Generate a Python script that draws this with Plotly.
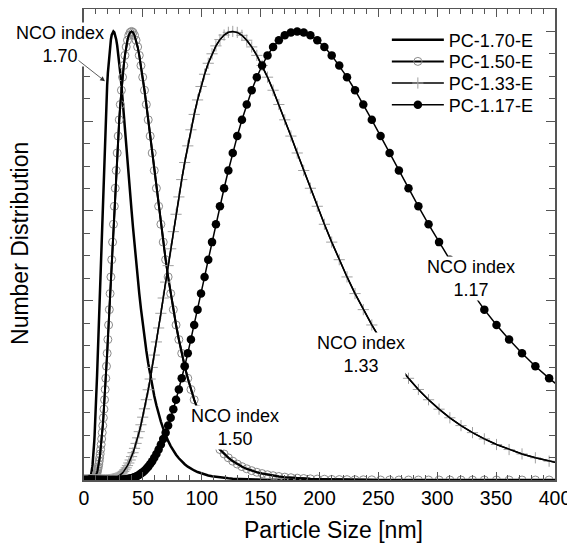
import plotly.graph_objects as go

# Particle size grid [nm]
sizes = [0.0, 0.5, 1.0, 1.5, 2.0, 2.5, 3.0, 3.5,
         4.01, 4.13, 4.26, 4.39, 4.52, 4.66, 4.80, 4.95, 5.10, 5.25,
         5.41, 5.58, 5.75, 5.92, 6.10, 6.29, 6.48, 6.68, 6.88, 7.09,
         7.31, 7.53, 7.76, 8.00, 8.24, 8.49, 8.75, 9.01, 9.29, 9.57,
         9.86, 10.16, 10.47, 10.79, 11.12, 11.46, 11.81, 12.17, 12.54, 12.92,
         13.31, 13.72, 14.14, 14.57, 15.01, 15.47, 15.94, 16.43, 16.93, 17.44,
         17.97, 18.52, 19.08, 19.67, 20.26, 20.88, 21.52, 22.17, 22.85, 23.54,
         24.26, 25.00, 25.76, 26.55, 27.35, 28.19, 29.05, 29.93, 30.84, 31.78,
         32.75, 33.75, 34.77, 35.83, 36.92, 38.05, 39.21, 40.40, 41.63, 42.90,
         44.21, 45.55, 46.94, 48.37, 49.84, 51.36, 52.93, 54.54, 56.20, 57.91,
         59.67, 61.49, 63.36, 65.29, 67.28, 69.33, 71.44, 73.62, 75.86, 78.17,
         80.55, 83.00, 85.53, 88.14, 90.82, 93.59, 96.44, 99.37, 102.40, 105.52,
         108.73, 112.04, 115.45, 118.97, 122.59, 126.33, 130.17, 134.14, 138.22, 142.43,
         146.77, 151.24, 155.85, 160.59, 165.48, 170.52, 175.72, 181.07, 186.58, 192.27,
         198.12, 204.15, 210.37, 216.78, 223.38, 230.18, 237.19, 244.42, 251.86, 259.53,
         267.43, 275.58, 283.97, 292.62, 301.53, 310.71, 320.18, 329.93, 339.98, 350.33,
         361.00, 371.99, 383.32, 395.00, 407.03]

pc170 = [0, 0, 0, 0, 0, 0, 0, 0,
         0.0006, 0.0008, 0.0010, 0.0012, 0.0016, 0.0019, 0.0024, 0.0030, 0.0037, 0.0046,
         0.0056, 0.0069, 0.0084, 0.0102, 0.0123, 0.0148, 0.0177, 0.0212, 0.0252, 0.0298,
         0.0352, 0.0413, 0.0484, 0.0564, 0.0655, 0.0757, 0.0872, 0.1001, 0.1144, 0.1302,
         0.1475, 0.1666, 0.1874, 0.2099, 0.2342, 0.2603, 0.2881, 0.3176, 0.3488, 0.3815,
         0.4156, 0.4509, 0.4874, 0.5246, 0.5624, 0.6006, 0.6389, 0.6769, 0.7143, 0.7507,
         0.7859, 0.8195, 0.8510, 0.8803, 0.9070, 0.9308, 0.9514, 0.9686, 0.9822, 0.9921,
         0.9980, 1.0000, 0.9980, 0.9921, 0.9822, 0.9686, 0.9514, 0.9308, 0.9070, 0.8803,
         0.8510, 0.8195, 0.7859, 0.7507, 0.7143, 0.6769, 0.6389, 0.6006, 0.5624, 0.5246,
         0.4874, 0.4509, 0.4156, 0.3815, 0.3488, 0.3176, 0.2881, 0.2603, 0.2342, 0.2099,
         0.1874, 0.1666, 0.1475, 0.1302, 0.1144, 0.1001, 0.0872, 0.0757, 0.0655, 0.0564,
         0.0484, 0.0413, 0.0352, 0.0298, 0.0252, 0.0212, 0.0177, 0.0148, 0.0123, 0.0102,
         0.0084, 0.0069, 0.0056, 0.0046, 0.0037, 0.0030, 0.0024, 0.0019, 0.0016, 0.0012,
         0.0010, 0.0008, 0.0006, 0.0005, 0, 0, 0, 0, 0, 0,
         0, 0, 0, 0, 0, 0, 0, 0, 0, 0,
         0, 0, 0, 0, 0, 0, 0, 0, 0, 0,
         0, 0, 0, 0, 0]

pc150 = [0, 0, 0, 0, 0, 0, 0, 0,
         0, 0, 0, 0, 0, 0, 0, 0, 0, 0,
         0, 0, 0, 0, 0, 0, 0, 0.0004, 0.0005, 0.0006,
         0.0008, 0.0010, 0.0013, 0.0017, 0.0021, 0.0026, 0.0033, 0.0041, 0.0051, 0.0064,
         0.0078, 0.0096, 0.0117, 0.0143, 0.0173, 0.0208, 0.0250, 0.0298, 0.0355, 0.0420,
         0.0495, 0.0581, 0.0679, 0.0791, 0.0916, 0.1056, 0.1213, 0.1387, 0.1579, 0.1789,
         0.2018, 0.2267, 0.2536, 0.2824, 0.3131, 0.3456, 0.3798, 0.4156, 0.4527, 0.4911,
         0.5303, 0.5701, 0.6102, 0.6504, 0.6900, 0.7290, 0.7667, 0.8029, 0.8371, 0.8689,
         0.8980, 0.9240, 0.9466, 0.9655, 0.9804, 0.9913, 0.9978, 1.0000, 0.9978, 0.9913,
         0.9804, 0.9655, 0.9466, 0.9240, 0.8980, 0.8689, 0.8371, 0.8029, 0.7667, 0.7290,
         0.6900, 0.6504, 0.6102, 0.5701, 0.5303, 0.4911, 0.4527, 0.4156, 0.3798, 0.3456,
         0.3131, 0.2824, 0.2536, 0.2267, 0.2018, 0.1789, 0.1579, 0.1387, 0.1213, 0.1056,
         0.0916, 0.0791, 0.0679, 0.0581, 0.0495, 0.0420, 0.0355, 0.0298, 0.0250, 0.0208,
         0.0173, 0.0143, 0.0117, 0.0096, 0.0078, 0.0064, 0.0051, 0.0041, 0.0033, 0.0026,
         0.0021, 0.0017, 0.0013, 0.0010, 0.0008, 0.0006, 0.0005, 0.0004, 0, 0,
         0, 0, 0, 0, 0, 0, 0, 0, 0, 0,
         0, 0, 0, 0, 0]

pc133 = [0, 0, 0, 0, 0, 0, 0, 0,
         0, 0, 0, 0, 0, 0, 0, 0, 0, 0,
         0, 0, 0, 0, 0, 0, 0, 0, 0, 0,
         0, 0, 0, 0, 0, 0, 0, 0, 0, 0,
         0, 0, 0, 0, 0, 0, 0, 0, 0, 0,
         0, 0, 0, 0, 0, 0, 0, 0, 0, 0,
         0, 0, 0, 0.0004, 0.0005, 0.0006, 0.0008, 0.0010, 0.0013, 0.0016,
         0.0021, 0.0026, 0.0032, 0.0040, 0.0049, 0.0060, 0.0074, 0.0090, 0.0109, 0.0132,
         0.0159, 0.0191, 0.0228, 0.0271, 0.0321, 0.0379, 0.0446, 0.0522, 0.0608, 0.0706,
         0.0816, 0.0940, 0.1078, 0.1231, 0.1401, 0.1587, 0.1790, 0.2012, 0.2251, 0.2509,
         0.2785, 0.3078, 0.3389, 0.3716, 0.4057, 0.4412, 0.4779, 0.5154, 0.5537, 0.5924,
         0.6311, 0.6697, 0.7078, 0.7449, 0.7807, 0.8150, 0.8473, 0.8773, 0.9046, 0.9290,
         0.9501, 0.9678, 0.9818, 0.9919, 0.9980, 1.0000, 0.9978, 0.9913, 0.9804, 0.9655,
         0.9466, 0.9240, 0.8980, 0.8689, 0.8371, 0.8029, 0.7667, 0.7290, 0.6900, 0.6504,
         0.6102, 0.5701, 0.5303, 0.4911, 0.4527, 0.4156, 0.3798, 0.3456, 0.3131, 0.2824,
         0.2536, 0.2267, 0.2018, 0.1789, 0.1579, 0.1387, 0.1213, 0.1056, 0.0916, 0.0791,
         0.0679, 0.0581, 0.0495, 0.0420, 0.0355]

pc117 = [0, 0, 0, 0, 0, 0, 0, 0,
         0, 0, 0, 0, 0, 0, 0, 0, 0, 0,
         0, 0, 0, 0, 0, 0, 0, 0, 0, 0,
         0, 0, 0, 0, 0, 0, 0, 0, 0, 0,
         0, 0, 0, 0, 0, 0, 0, 0, 0, 0,
         0, 0, 0, 0, 0, 0, 0, 0, 0, 0,
         0, 0, 0, 0, 0, 0, 0, 0, 0, 0,
         0, 0, 0, 0, 0, 0, 0, 0.0004, 0.0005, 0.0006,
         0.0008, 0.0010, 0.0013, 0.0017, 0.0021, 0.0026, 0.0033, 0.0041, 0.0051, 0.0064,
         0.0078, 0.0096, 0.0117, 0.0143, 0.0173, 0.0208, 0.0250, 0.0298, 0.0355, 0.0420,
         0.0495, 0.0581, 0.0679, 0.0791, 0.0916, 0.1056, 0.1213, 0.1387, 0.1579, 0.1789,
         0.2018, 0.2267, 0.2536, 0.2824, 0.3131, 0.3456, 0.3798, 0.4156, 0.4527, 0.4911,
         0.5303, 0.5701, 0.6102, 0.6504, 0.6900, 0.7290, 0.7667, 0.8029, 0.8371, 0.8689,
         0.8980, 0.9240, 0.9466, 0.9655, 0.9804, 0.9913, 0.9978, 1.0000, 0.9978, 0.9913,
         0.9804, 0.9655, 0.9466, 0.9240, 0.8980, 0.8689, 0.8371, 0.8029, 0.7667, 0.7290,
         0.6900, 0.6504, 0.6102, 0.5701, 0.5303, 0.4911, 0.4527, 0.4156, 0.3798, 0.3456,
         0.3131, 0.2824, 0.2536, 0.2267, 0.2018]

series_names = ["PC-1.70-E", "PC-1.50-E", "PC-1.33-E", "PC-1.17-E"]
x_ticks = [0, 50, 100, 150, 200, 250, 300, 350, 400]

FONT = "Liberation Sans, Arial, Helvetica, sans-serif"

fig = go.Figure()

# PC-1.70-E: solid thick line
fig.add_trace(go.Scatter(x=sizes, y=pc170, name=series_names[0], mode="lines",
                         legend="legend", line=dict(color="black", width=2.5)))
# PC-1.50-E: open grey circles with black line over them
fig.add_trace(go.Scatter(x=sizes, y=pc150, name=series_names[1], mode="lines+markers",
                         legend="legend2", line=dict(color="black", width=2),
                         marker=dict(symbol="circle-open", size=8, color="#8a8a8a",
                                     line=dict(width=1, color="#8a8a8a"))))
fig.add_trace(go.Scatter(x=sizes, y=pc150, mode="lines", showlegend=False,
                         line=dict(color="black", width=2), hoverinfo="skip"))
# PC-1.33-E: thin grey crosses
fig.add_trace(go.Scatter(x=sizes, y=pc133, name=series_names[2], mode="lines+markers",
                         legend="legend3", line=dict(color="black", width=1.5),
                         marker=dict(symbol="cross-thin", size=8, color="#a0a0a0",
                                     line=dict(width=1, color="#a0a0a0"))))
fig.add_trace(go.Scatter(x=sizes, y=pc133, mode="lines", showlegend=False,
                         line=dict(color="black", width=1.5), hoverinfo="skip"))
# PC-1.17-E: filled black dots
fig.add_trace(go.Scatter(x=sizes, y=pc117, name=series_names[3], mode="lines+markers",
                         legend="legend4", line=dict(color="black", width=1.5),
                         marker=dict(symbol="circle", size=8.5, color="black")))

axis_common = dict(showline=True, linecolor="#555555", linewidth=1.5, mirror="ticks",
                   ticks="inside", tickcolor="#555555", tickwidth=1,
                   showgrid=False, zeroline=False, automargin=False)

fig.update_xaxes(range=[0, 400], tickvals=x_ticks, ticklen=8,
                 minor=dict(dtick=10, ticks="inside", ticklen=5, tickcolor="#555555", showgrid=False),
                 tickfont=dict(size=19.5, color="black", family=FONT),
                 **axis_common)
fig.update_yaxes(range=[0, 1.05], dtick=0.2, ticklen=9, showticklabels=False,
                 minor=dict(dtick=0.05, ticks="inside", ticklen=6, tickcolor="#555555", showgrid=False),
                 **axis_common)

ann_font = dict(size=18, color="black", family=FONT)
title_font = dict(size=23, color="black", family=FONT)
annotations = [
    dict(x=0.5287, y=-0.106, xref="paper", yref="paper", text="Particle Size [nm]",
         showarrow=False, font=title_font, xanchor="center", yanchor="middle"),
    dict(x=-0.1359, y=0.5032, xref="paper", yref="paper", text="Number Distribution",
         showarrow=False, font=title_font, textangle=-90, xanchor="center", yanchor="middle"),
    dict(x=-0.051, y=0.9236, xref="paper", yref="paper", text="NCO index<br>1.70", showarrow=False,
         font=ann_font, bgcolor="white", borderpad=0, align="center",
         xanchor="center", yanchor="middle"),
    dict(x=17.8, y=0.889, xref="x", yref="y", text="", showarrow=True, ax=-28, ay=-22,
         arrowhead=2, arrowsize=1.2, arrowwidth=0.8, arrowcolor="#333333"),
    dict(x=128.2, y=0.116, xref="x", yref="y", text="NCO index<br>1.50", showarrow=False,
         font=ann_font, bgcolor="white", borderpad=0, align="center"),
    dict(x=235.2, y=0.279, xref="x", yref="y", text="NCO index<br>1.33", showarrow=False,
         font=ann_font, bgcolor="white", borderpad=0, align="center"),
    dict(x=328.7, y=0.450, xref="x", yref="y", text="NCO index<br>1.17", showarrow=False,
         font=ann_font, bgcolor="white", borderpad=0, align="center"),
]

legend_style = dict(x=0.643, xanchor="left", yanchor="middle",
                    font=dict(size=18, color="black", family=FONT),
                    bgcolor="rgba(0,0,0,0)", borderwidth=0, itemwidth=52)

# The page body adds an 8 px margin, so the figure is 8 px smaller each way
fig.update_layout(
    width=567, height=537,
    margin=dict(l=76, r=20, t=1, b=65, autoexpand=False),
    paper_bgcolor="white", plot_bgcolor="white",
    font=dict(family=FONT, color="black"),
    showlegend=True,
    legend=dict(y=0.9342, **legend_style),
    legend2=dict(y=0.8881, **legend_style),
    legend3=dict(y=0.8422, **legend_style),
    legend4=dict(y=0.7962, **legend_style),
    annotations=annotations,
)

fig.write_html("out.html")
